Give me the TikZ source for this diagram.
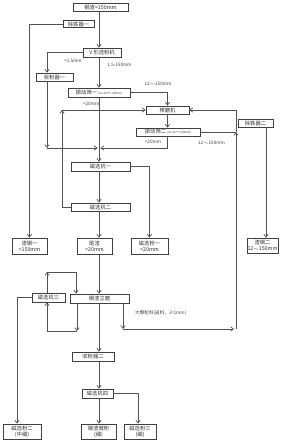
\documentclass[tikz,border=0pt]{standalone}
\usepackage{fontspec}
\setmainfont{Liberation Serif}
\newfontfamily\cjk{Noto Sans CJK SC}
\newcommand\smtxt[1]{{\fontsize{3}{3.5}\selectfont #1}}
\usetikzlibrary{arrows.meta}
\begin{document}
\begin{tikzpicture}[x=1pt,y=-1pt,
  bx/.style={draw=black!75,line width=0.8pt,inner sep=0pt,align=center,font=\cjk\fontsize{5.3}{6.2}\selectfont,text=black!80},
  ln/.style={draw=black!68,line width=0.7pt},
  arr/.style={ln,-{Straight Barb[length=2.8pt,width=4.2pt]}},
  lab/.style={font=\cjk\fontsize{4.6}{5}\selectfont,text=black!75,inner sep=0pt}]
\useasboundingbox (0,0) rectangle (286,443);
\fill[white] (0,0) rectangle (286,443);
% nodes
\node[bx,minimum width=55pt,minimum height=8pt] (n0) at (100.5,7) {钢渣<150mm};
\node[bx,minimum width=31pt,minimum height=7pt] (n1) at (78.5,24) {除铁器一};
\node[bx,minimum width=38pt,minimum height=9pt] (n2) at (102,52.5) {V 形选粉机};
\node[bx,minimum width=37pt,minimum height=8pt] (n3) at (54.5,77) {收粉器一};
\node[bx,minimum width=62pt,minimum height=9pt] (n4) at (99,92.5) {振动筛一 \smtxt{(w=12$\sim$20mm)}};
\node[bx,minimum width=43pt,minimum height=8pt] (n5) at (167.5,110) {棒磨机};
\node[bx,minimum width=64pt,minimum height=8pt] (n6) at (168,132) {振动筛二 \smtxt{(w=12$\sim$20mm)}};
\node[bx,minimum width=35pt,minimum height=8pt] (n7) at (255.5,123) {除铁器二};
\node[bx,minimum width=59pt,minimum height=9pt] (n8) at (100.5,166.5) {磁选机一};
\node[bx,minimum width=59pt,minimum height=8pt] (n9) at (100.5,207) {磁选机二};
\node[bx,minimum width=35pt,minimum height=16pt] (n10) at (29.5,246) {渣钢一\\<150mm};
\node[bx,minimum width=35pt,minimum height=16pt] (n11) at (94.5,246) {尾渣\\<20mm};
\node[bx,minimum width=37pt,minimum height=16pt] (n12) at (149.5,246) {磁选粉一\\<20mm};
\node[bx,minimum width=31pt,minimum height=15pt] (n13) at (262.5,245.5) {渣钢二\\12$\sim$150mm};
\node[bx,minimum width=59pt,minimum height=9pt] (n14) at (99.5,298.5) {钢渣立磨};
\node[bx,minimum width=33pt,minimum height=9pt] (n15) at (48.5,297.5) {磁选机三};
\node[bx,minimum width=42pt,minimum height=9pt] (n16) at (93,356.5) {收粉器二};
\node[bx,minimum width=31pt,minimum height=9pt] (n17) at (97.5,393.5) {磁选机四};
\node[bx,minimum width=38pt,minimum height=15pt] (n18) at (22,431.5) {磁选粉二\\(中细)};
\node[bx,minimum width=35pt,minimum height=15pt] (n19) at (98.5,431.5) {钢渣微粉\\(细)};
\node[bx,minimum width=32pt,minimum height=15pt] (n20) at (140,431.5) {磁选粉三\\(细)};
% coordinates
\coordinate (mx) at (99,0);
\coordinate (c47) at (47,0);
\coordinate (c266) at (266,0);
\coordinate (c138) at (138,0);
\coordinate (c17) at (17,0);
\coordinate (k1) at (47,148);
\coordinate (j1) at (99,148);
\coordinate (j2) at (236,132);
\coordinate (k2) at (62,110);
\coordinate (r1) at (123,329);
\coordinate (r2) at (236,329);
\coordinate (l1) at (47,272);
\coordinate (l2) at (76,272);
\coordinate (b1) at (77,331);
\coordinate (b2) at (47,331);
% labels
\node[lab] at (73,61) {<1.5mm};
\node[lab] at (119.5,65) {1.5-150mm};
\node[lab] at (158,84) {12$\sim$150mm};
\node[lab,anchor=east] at (99.5,104) {<20mm};
\node[lab] at (153,142) {<20mm};
\node[lab] at (211.5,143) {12$\sim$150mm};
\node[lab,anchor=west] at (135,313) {大颗粒料(返料，≥1mm)};
% connectors
\draw[arr] (n0.south -| mx) -- (n2.north -| mx);
\draw[arr] (n1.west) -| (n10.north);
\draw[arr] (n2.west) -| (n3.north -| c47);
\draw[arr] (n2.south -| mx) -- (n4.north -| mx);
\draw[arr] (n4.east) -| (n5.north);
\draw[arr] (n3.south -| c47) -- (k1);
\draw[arr,shorten >=1.5pt] (k1) -- (j1);
\draw[ln] (n4.south -| mx) -- (j1);
\draw[arr,shorten >=1.5pt] (n6.south -| n5.south) |- (j1);
\draw[arr] (j1) -- (n8.north -| mx);
\draw[arr] (n5.south) -- (n6.north -| n5.south);
\draw[ln] (n6.east) -- (n6.east -| j2);
\draw[arr] (n14.south -| r1) -- (r1);
\draw[arr,shorten >=2pt] (r1) -- (r2);
\draw[arr] (r2) -- (n6.east -| j2);
\draw[arr] (n6.east -| j2) |- (n5.east);
\draw[arr] (n7.south -| c266) -- (n13.north -| c266);
\draw[arr] (n8.east) -| (n12.north);
\draw[arr] (n8.south -| mx) -- (n9.north -| mx);
\draw[arr] (n9.west) -| (k2);
\draw[arr] (k2) -- (n5.west);
\draw[arr] (n9.south -| mx) -- (n11.north -| mx);
\draw[arr] (n11.south -| mx) -- (n14.north -| mx);
\draw[arr] (n15.north -| c47) -- (l1);
\draw[arr] (l1) -- (l2) -- (n14.north -| l2);
\draw[arr] (n14.south -| b1) -- (b1);
\draw[arr] (b1) -- (b2) -- (n15.south -| b2);
\draw[arr] (n15.west) -| (n18.north -| c17);
\draw[arr] (n14.south -| mx) -- (n16.north -| mx);
\draw[arr] (n16.south -| mx) -- (n17.north -| mx);
\draw[arr] (n17.east) -| (n20.north -| c138);
\draw[arr] (n17.south -| mx) -- (n19.north -| mx);
\end{tikzpicture}
\end{document}
